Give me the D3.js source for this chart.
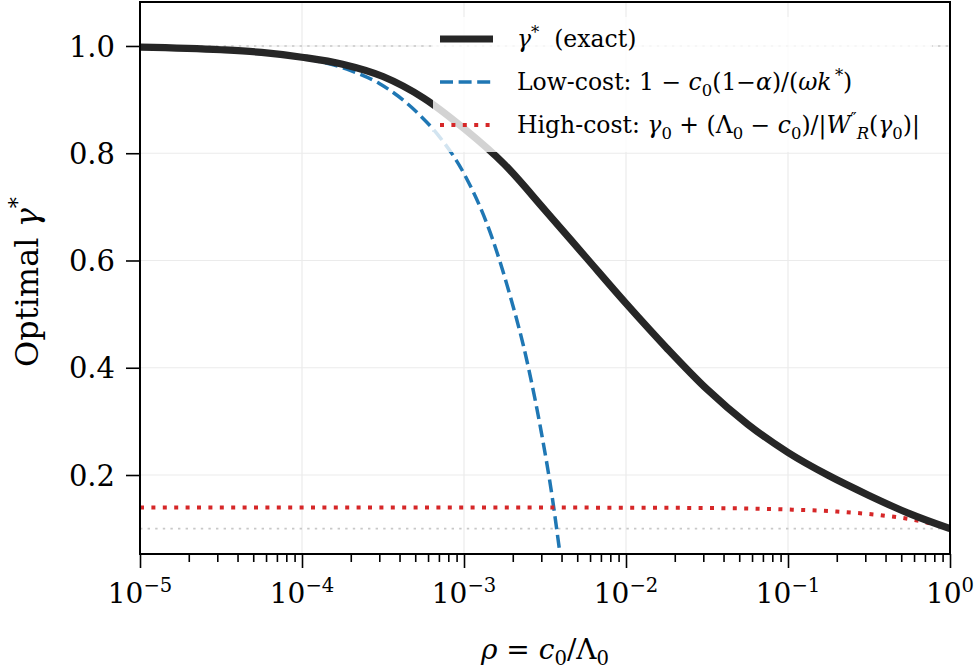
<!DOCTYPE html>
<html>
<head>
<meta charset="utf-8">
<script src="https://cdn.jsdelivr.net/npm/d3@7"></script>
<style>
  body { margin: 0; background: #fff; }
  svg text { font-family: "DejaVu Serif", serif; fill: #000; }
</style>
</head>
<body>
<div id="chart"></div>
<script>
'use strict';

// values
var exactRho   = [1e-5, 3.16e-5, 5.62e-5, 1e-4, 1.78e-4, 3.16e-4, 5.62e-4, 1e-3, 1.78e-3, 3.16e-3, 5.62e-3, 1e-2, 1.78e-2, 3.16e-2, 5.62e-2, 0.1, 0.178, 0.316, 0.562, 1];
var exactGamma = [0.998, 0.993, 0.988, 0.979, 0.966, 0.943, 0.903, 0.846, 0.779, 0.694, 0.607, 0.52, 0.437, 0.36, 0.295, 0.242, 0.199, 0.162, 0.128, 0.10];

var lowRho   = [1e-5, 1e-4, 2e-4, 3e-4, 5.3e-4, 7e-4, 1e-3, 1.5e-3, 1.84e-3, 2.5e-3, 3e-3, 3.5e-3, 3.92e-3, 4.1e-3];
var lowGamma = [0.998, 0.977, 0.954, 0.93, 0.872, 0.832, 0.762, 0.64, 0.555, 0.40, 0.28, 0.16, 0.052, 0.01];

var highRho   = [1e-5, 1e-4, 1e-3, 1e-2, 3e-2, 0.1, 0.2, 0.4, 0.6, 0.8, 1];
var highGamma = [0.1395, 0.1395, 0.1395, 0.139, 0.1385, 0.1357, 0.1318, 0.124, 0.1164, 0.108, 0.101];

var refLines = [1.0, 0.1];
var yTicks = [0.2, 0.4, 0.6, 0.8, 1.0];
var xTicks = [1e-5, 1e-4, 1e-3, 1e-2, 1e-1, 1];

var W = 979, H = 671;
var margin = {top: 2, right: 29, bottom: 117, left: 140};
var width = W - margin.left - margin.right,
    height = H - margin.top - margin.bottom;

var svg = d3.select('#chart').append('svg')
    .attr('width', W)
    .attr('height', H)
    .append('g')
    .attr('transform', 'translate(' + margin.left + ',' + margin.top + ')');

var x = d3.scaleLog().domain([1e-5, 1]).range([0, width]);
var y = d3.scaleLinear().domain([0.0527, 1.082]).range([height, 0]);

svg.append('clipPath').attr('id', 'clip')
    .append('rect').attr('width', width).attr('height', height);

// write text with sub/superscripts as tspans
function rich(sel, parts, size) {
    var off = 0;
    parts.forEach(function(p) {
        var target = p.s === 'sup' ? -0.4 * size : (p.s === 'sub' ? 0.22 * size : 0);
        sel.append('tspan')
            .attr('dy', target - off)
            .style('font-size', (p.s ? 0.7 * size : size) + 'px')
            .style('font-style', p.i ? 'italic' : 'normal')
            .text(p.t);
        off = target;
    });
    return sel;
}

// grid
svg.append('g').selectAll('line.gx')
    .data(xTicks).enter().append('line')
    .attr('x1', function(d) { return x(d); }).attr('x2', function(d) { return x(d); })
    .attr('y1', 0).attr('y2', height)
    .attr('stroke', '#ebebeb').attr('stroke-width', 1.2);
svg.append('g').selectAll('line.gy')
    .data(yTicks).enter().append('line')
    .attr('x1', 0).attr('x2', width)
    .attr('y1', function(d) { return y(d); }).attr('y2', function(d) { return y(d); })
    .attr('stroke', '#ebebeb').attr('stroke-width', 1.2);

// dotted reference levels
svg.append('g').selectAll('line.ref')
    .data(refLines).enter().append('line')
    .attr('x1', 0).attr('x2', width)
    .attr('y1', function(d) { return y(d); }).attr('y2', function(d) { return y(d); })
    .attr('stroke', '#c8c8c8').attr('stroke-width', 1.6)
    .attr('stroke-dasharray', '2.4,5.2');

var line = d3.line()
    .x(function(d) { return x(d[0]); })
    .y(function(d) { return y(d[1]); })
    .curve(d3.curveMonotoneX);

var plot = svg.append('g').attr('clip-path', 'url(#clip)');

plot.append('path')
    .datum(d3.zip(lowRho, lowGamma))
    .attr('d', line)
    .attr('fill', 'none').attr('stroke', '#1f77b4')
    .attr('stroke-width', 3.5).attr('stroke-dasharray', '13,5.6');

plot.append('path')
    .datum(d3.zip(highRho, highGamma))
    .attr('d', line)
    .attr('fill', 'none').attr('stroke', '#d62728')
    .attr('stroke-width', 4).attr('stroke-dasharray', '4,7.4');

plot.append('path')
    .datum(d3.zip(exactRho, exactGamma))
    .attr('d', line)
    .attr('fill', 'none').attr('stroke', '#262626')
    .attr('stroke-width', 7.2).attr('stroke-linecap', 'butt');

// axes
var fs = 28;
var minor = x.ticks().filter(function(d) { return xTicks.indexOf(d) < 0; });

var xAxis = svg.append('g').attr('transform', 'translate(0,' + height + ')');
xAxis.call(d3.axisBottom(x).tickValues(minor).tickSize(8).tickFormat(''));
xAxis.append('g').call(d3.axisBottom(x).tickValues(xTicks).tickSize(14).tickFormat(''));
xAxis.selectAll('.domain').remove();
xAxis.selectAll('line').attr('stroke', '#000').attr('stroke-width', 1.6);

xAxis.selectAll('text.xl')
    .data(xTicks).enter().append('text')
    .attr('class', 'xl')
    .attr('x', function(d) { return x(d); })
    .attr('y', 49)
    .attr('text-anchor', 'middle')
    .each(function(d) {
        var e = Math.round(Math.log10(d));
        rich(d3.select(this), [{t: '10'}, {t: (e < 0 ? '\u2212' : '') + Math.abs(e), s: 'sup'}], fs);
    });

var yAxis = svg.append('g');
yAxis.call(d3.axisLeft(y).tickValues(yTicks).tickSize(14).tickFormat(''));
yAxis.selectAll('.domain').remove();
yAxis.selectAll('line').attr('stroke', '#000').attr('stroke-width', 1.6);
yAxis.selectAll('text.yl')
    .data(yTicks).enter().append('text')
    .attr('class', 'yl')
    .attr('x', -25)
    .attr('y', function(d) { return y(d) + 0.37 * 29; })
    .attr('text-anchor', 'end')
    .style('font-size', '29px')
    .text(function(d) { return d.toFixed(1); });

// frame
svg.append('rect')
    .attr('width', width).attr('height', height)
    .attr('fill', 'none').attr('stroke', '#000').attr('stroke-width', 2);

// axis labels
rich(svg.append('text')
    .attr('x', width / 2).attr('y', height + 105)
    .attr('text-anchor', 'middle'),
    [{t: '\u03c1', i: 1}, {t: '\u00a0=\u00a0'}, {t: 'c', i: 1}, {t: '0', s: 'sub'}, {t: '/\u039b'}, {t: '0', s: 'sub'}], 28);

rich(svg.append('text')
    .attr('transform', 'translate(' + (-102) + ',' + (height / 2 + 4) + ') rotate(-90)')
    .attr('text-anchor', 'middle'),
    [{t: 'Optimal\u00a0'}, {t: '\u03b3', i: 1}, {t: '*', s: 'sup'}], 32);

// legend
var lg = svg.append('g').attr('transform', 'translate(' + (433 - margin.left) + ',' + (17 - margin.top) + ')');
lg.append('rect')
    .attr('width', 499).attr('height', 135).attr('rx', 4)
    .attr('fill', '#fff').attr('fill-opacity', 0.8);

var lfs = 23.5;
var legendItems = [
    {color: '#262626', w: 7.2, dash: null,
     parts: [{t: '\u03b3', i: 1}, {t: '*', s: 'sup'}, {t: '\u00a0\u00a0(exact)'}]},
    {color: '#1f77b4', w: 3.5, dash: '13,5.6',
     parts: [{t: 'Low-cost:\u00a01\u00a0\u2212\u00a0'}, {t: 'c', i: 1}, {t: '0', s: 'sub'}, {t: '(1\u2212'}, {t: '\u03b1', i: 1},
             {t: ')/('}, {t: '\u03c9k', i: 1}, {t: '\u2009*', s: 'sup'}, {t: ')'}]},
    {color: '#d62728', w: 4, dash: '4,7.4',
     parts: [{t: 'High-cost:\u00a0'}, {t: '\u03b3', i: 1}, {t: '0', s: 'sub'}, {t: '\u00a0+\u00a0('}, {t: '\u039b'}, {t: '0', s: 'sub'},
             {t: '\u00a0\u2212\u00a0'}, {t: 'c', i: 1}, {t: '0', s: 'sub'}, {t: ')/|'}, {t: 'W', i: 1}, {t: '\u2033', s: 'sup'},
             {t: 'R', i: 1, s: 'sub'}, {t: '('}, {t: '\u03b3', i: 1}, {t: '0', s: 'sub'}, {t: ')|'}]}
];
var rowY = [22, 65, 108];

legendItems.forEach(function(it, i) {
    var ln = lg.append('line')
        .attr('x1', 7).attr('x2', 60)
        .attr('y1', rowY[i]).attr('y2', rowY[i])
        .attr('stroke', it.color).attr('stroke-width', it.w);
    if (it.dash) ln.attr('stroke-dasharray', it.dash);
    rich(lg.append('text').attr('x', 84).attr('y', rowY[i] + 0.36 * lfs), it.parts, lfs);
});
</script>
</body>
</html>
